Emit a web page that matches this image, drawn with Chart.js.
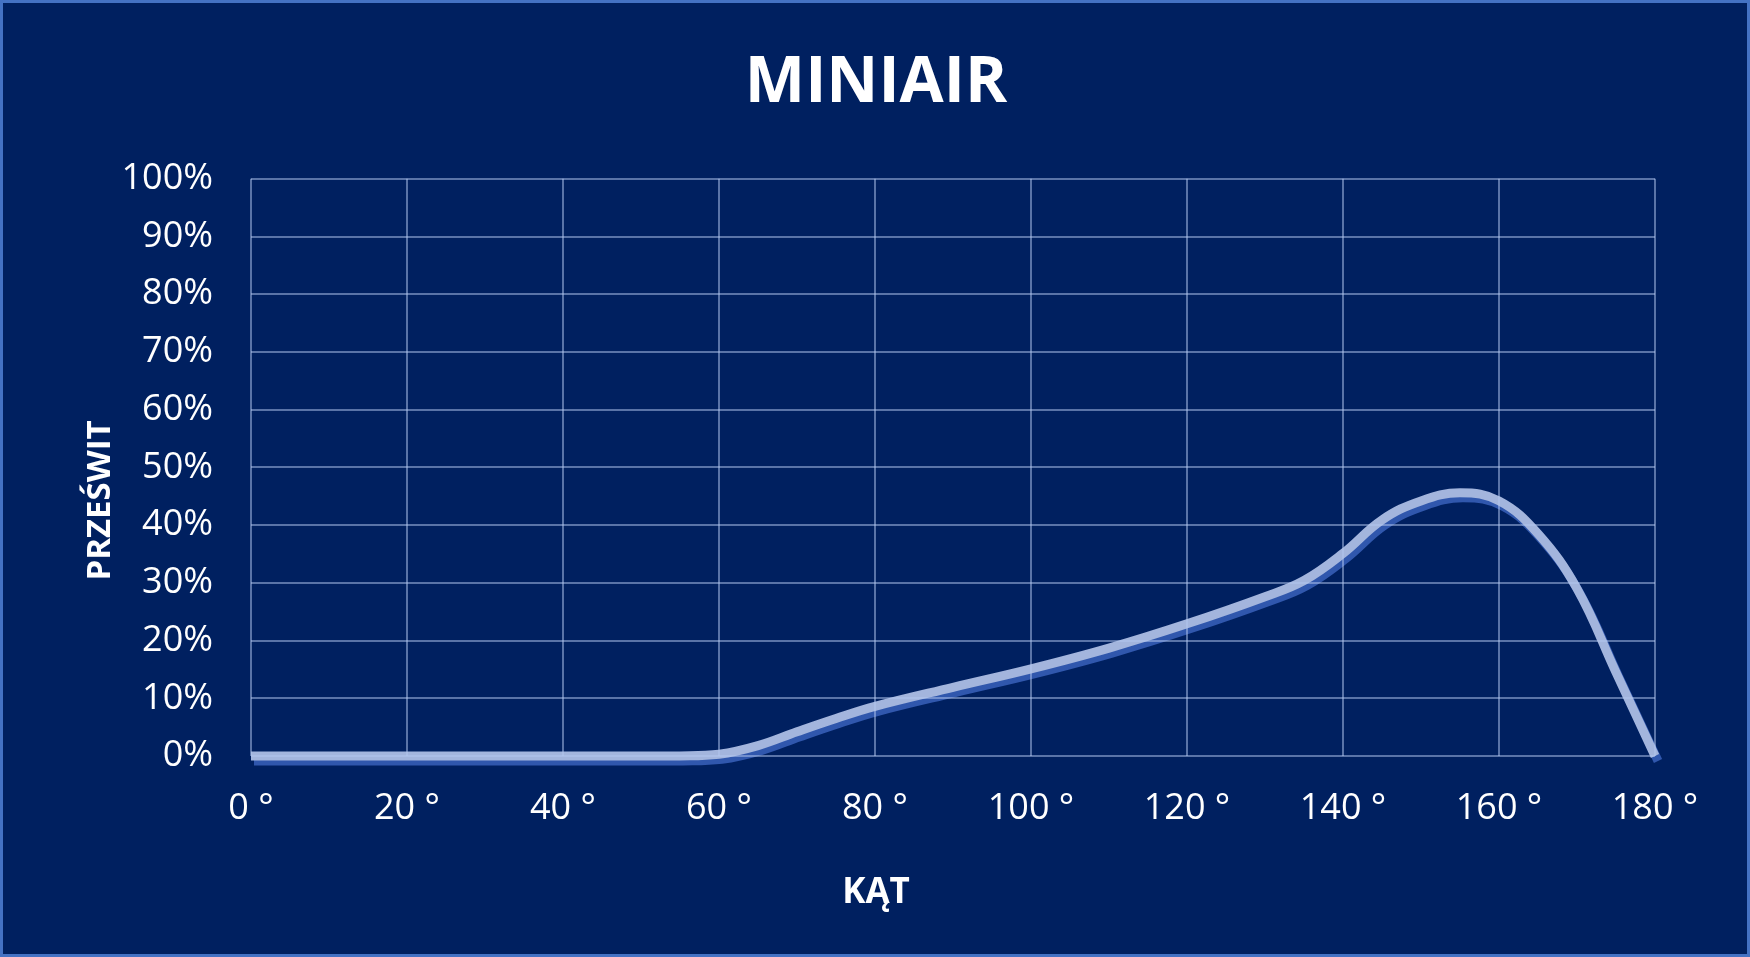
<!DOCTYPE html>
<html>
<head>
<meta charset="utf-8">
<script src="https://cdn.jsdelivr.net/npm/chart.js@4/dist/chart.umd.min.js"></script>
<style>
    html, body { margin: 0; padding: 0; background: #002060; }
    #wrap {
        width: 1750px;
        height: 957px;
        box-sizing: border-box;
        border: 3px solid #4472c4;
        background: #002060;
    }
    canvas { display: block; }
</style>
</head>
<body>
<div id="wrap"><canvas id="lineChart"></canvas></div>
<script>
const chartTitle = "MINIAIR";
const xTitle = "KĄT";
const yTitle = "PRZEŚWIT";

// angle in degrees and light transmission in percent
const angles = [0, 10, 20, 30, 40, 50, 55, 60, 65, 70, 75, 80, 90, 100, 110, 120,
    130, 135, 140, 145, 150, 155, 160, 165, 170, 175, 180];
const clearance = [0, 0, 0, 0, 0, 0, 0, 0.3, 1.8, 4.2, 6.5, 8.6, 11.9, 15.1, 18.7, 22.9,
    27.6, 30.4, 35.1, 40.9, 44.2, 45.6, 44.2, 38.5, 29, 14.5, 0];

const xTicks = [0, 20, 40, 60, 80, 100, 120, 140, 160, 180];
const yTicks = [0, 10, 20, 30, 40, 50, 60, 70, 80, 90, 100];

const fontFamily = "'Open Sans', 'Noto Sans', sans-serif";
const gridColor = "rgba(180, 200, 240, 0.5)";

/**
 * Offset shadow under the line, like the office chart.
 */
const lineShadow = {
    id: "lineShadow",
    beforeDatasetDraw(chart) {
        const c = chart.ctx;
        c.save();
        c.shadowColor = "#3057ad";
        c.shadowOffsetX = 3;
        c.shadowOffsetY = 5;
        c.shadowBlur = 0;
    },
    afterDatasetDraw(chart) {
        chart.ctx.restore();
    }
};

/**
 * Y axis title, sitting a bit lower than the plot middle.
 */
const yAxisTitle = {
    id: "yAxisTitle",
    afterDraw(chart) {
        const c = chart.ctx;
        const area = chart.chartArea;
        c.save();
        c.translate(chart.scales.y.left + 4, (area.top + area.bottom) / 2 + 33);
        c.rotate(-Math.PI / 2);
        c.font = "bold 33px " + fontFamily;
        c.fillStyle = "#ffffff";
        c.textAlign = "center";
        c.textBaseline = "middle";
        c.fillText(yTitle, 0, 0);
        c.restore();
    }
};

/**
 * Build points for the scatter line.
 *
 * @returns {Array} points
 */
function getPoints() {
    const points = [];
    for (let i = 0; i < angles.length; i++) {
        points.push({ x: angles[i], y: clearance[i] });
    }
    return points;
}

/**
 * Setup the line chart.
 */
function initLineChart(ctx) {
    new Chart(ctx, {
        type: "scatter",
        data: {
            datasets: [{
                label: yTitle,
                data: getPoints(),
                showLine: true,
                borderColor: "#a3b5dd",
                borderWidth: 9,
                pointRadius: 0,
                tension: 0.4,
                clip: 12
            }]
        },
        options: {
            responsive: false,
            animation: false,
            layout: {
                padding: { left: 94, right: 92, top: 0, bottom: 0 }
            },
            plugins: {
                legend: { display: false },
                tooltip: { enabled: false },
                title: {
                    display: true,
                    text: chartTitle,
                    color: "#ffffff",
                    font: { family: fontFamily, size: 64, weight: "bold" },
                    padding: { top: 42, bottom: 57 }
                },
                subtitle: {
                    display: true,
                    position: "bottom",
                    text: xTitle,
                    color: "#ffffff",
                    font: { family: fontFamily, size: 35, weight: "bold" },
                    padding: { top: 42, bottom: 40 }
                }
            },
            scales: {
                x: {
                    type: "linear",
                    min: 0,
                    max: 180,
                    afterBuildTicks: axis => { axis.ticks = xTicks.map(v => ({ value: v })); },
                    afterFit: axis => { axis.height = 74; },
                    border: { display: false },
                    grid: { color: gridColor, lineWidth: 2, drawTicks: false, z: 1 },
                    ticks: {
                        color: "#ffffff",
                        padding: 31,
                        maxRotation: 0,
                        font: { family: fontFamily, size: 36 },
                        callback: v => v + " °"
                    }
                },
                y: {
                    min: 0,
                    max: 100,
                    afterBuildTicks: axis => { axis.ticks = yTicks.map(v => ({ value: v })); },
                    afterFit: axis => { axis.width = 154; },
                    border: { display: false },
                    grid: { color: gridColor, lineWidth: 2, drawTicks: false, z: 1 },
                    ticks: {
                        color: "#ffffff",
                        padding: 38,
                        font: { family: fontFamily, size: 36 },
                        callback: v => v + "%"
                    }
                }
            }
        },
        plugins: [lineShadow, yAxisTitle]
    });
}

const canvas = document.getElementById("lineChart");
canvas.width = 1744;
canvas.height = 951;
initLineChart(canvas);
</script>
</body>
</html>
